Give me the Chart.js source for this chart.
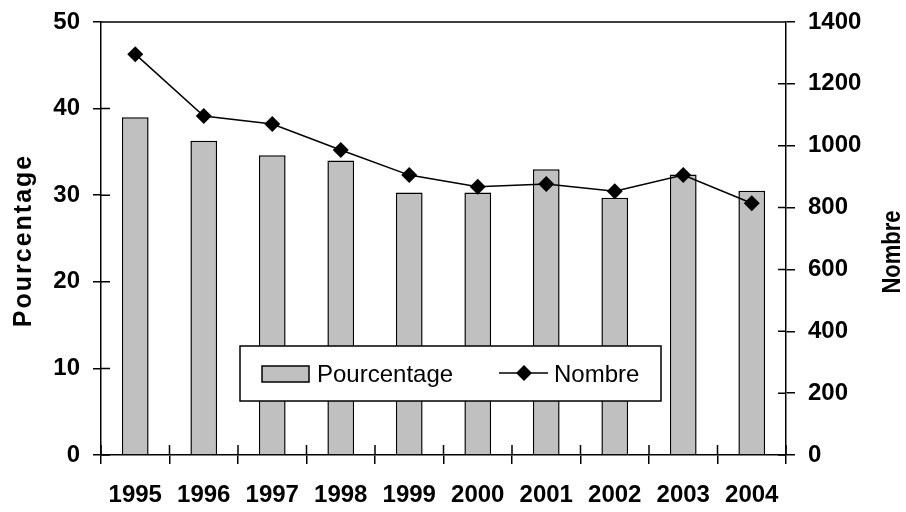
<!DOCTYPE html>
<html>
<head>
<meta charset="utf-8">
<script src="https://cdn.jsdelivr.net/npm/chart.js@4"></script>
<style>
  html, body { margin: 0; padding: 0; background: #fff; }
  #wrap { width: 906px; height: 512px; }
</style>
</head>
<body>
<div id="wrap"><canvas id="myChart" width="906" height="512"></canvas></div>
<script>
const years = ['1995', '1996', '1997', '1998', '1999', '2000', '2001', '2002', '2003', '2004'];
const pourcentage = [39.0, 36.3, 34.6, 34.0, 30.3, 30.3, 33.0, 29.7, 32.4, 30.5];
const nombre = [1296, 1096, 1070, 986, 905, 867, 876, 853, 905, 814];
const pctTitle = 'Pourcentage';
const nbTitle = 'Nombre';

const FONT = "'Liberation Sans', Arial, sans-serif";

// ticks that cross the axis line (Chart.js only draws the outer half)
const innerTicks = {
  id: 'innerTicks',
  afterDraw(chart) {
    const ctx = chart.ctx;
    const a = chart.chartArea;
    ctx.save();
    ctx.strokeStyle = '#000';
    ctx.lineWidth = 1.5;
    ctx.beginPath();
    // top border
    ctx.moveTo(a.left, a.top);
    ctx.lineTo(a.right, a.top);
    const y = chart.scales.y, y1 = chart.scales.y1, x = chart.scales.x;
    y.ticks.forEach((t, i) => {
      const py = y.getPixelForTick(i);
      ctx.moveTo(a.left, py); ctx.lineTo(a.left + 9, py);
    });
    y1.ticks.forEach((t, i) => {
      const py = y1.getPixelForTick(i);
      ctx.moveTo(a.right, py); ctx.lineTo(a.right - 8, py);
    });
    for (let i = 0; i <= years.length; i++) {
      const px = x.getPixelForValue(i - 0.5);
      ctx.moveTo(px, a.bottom); ctx.lineTo(px, a.bottom - 10);
    }
    ctx.stroke();

    // axis titles
    ctx.fillStyle = '#000';
    ctx.textAlign = 'center';
    ctx.textBaseline = 'middle';
    ctx.font = 'bold 25px ' + FONT;
    ctx.letterSpacing = '2px';
    ctx.save();
    ctx.translate(24, (a.top + a.bottom) / 2 + 2);
    ctx.rotate(-Math.PI / 2);
    ctx.fillText(pctTitle, 0, 0);
    ctx.restore();
    ctx.letterSpacing = '0px';
    ctx.save();
    ctx.translate(893, 252);
    ctx.rotate(-Math.PI / 2);
    ctx.scale(0.88, 1);
    ctx.fillText(nbTitle, 0, 0);
    ctx.restore();

    // legend box inside the plot
    const bar = chart.data.datasets[1], line = chart.data.datasets[0];
    const lx = 240, ly = 346, lw = 421, lh = 55;
    ctx.fillStyle = '#fff';
    ctx.fillRect(lx, ly, lw, lh);
    ctx.lineWidth = 1.5;
    ctx.strokeStyle = '#000';
    ctx.strokeRect(lx, ly, lw, lh);
    ctx.fillStyle = bar.backgroundColor;
    ctx.fillRect(262, 366, 47, 16);
    ctx.strokeStyle = bar.borderColor;
    ctx.strokeRect(262, 366, 47, 16);
    ctx.strokeStyle = line.borderColor;
    ctx.beginPath();
    ctx.moveTo(499, 373); ctx.lineTo(548, 373);
    ctx.stroke();
    ctx.fillStyle = '#000';
    ctx.beginPath();
    ctx.moveTo(524, 365); ctx.lineTo(532, 373); ctx.lineTo(524, 381); ctx.lineTo(516, 373);
    ctx.closePath();
    ctx.fill();
    ctx.font = '24px ' + FONT;
    ctx.textAlign = 'left';
    ctx.textBaseline = 'alphabetic';
    ctx.fillText(bar.label, 317, 382);
    ctx.fillText(line.label, 554, 382);
    ctx.restore();
  }
};

const noPad = s => { s.paddingTop = 0; s.paddingBottom = 0; };

const ctx = document.getElementById('myChart').getContext('2d');
new Chart(ctx, {
  data: {
    labels: years,
    datasets: [{
      type: 'line',
      label: 'Nombre',
      data: nombre,
      yAxisID: 'y1',
      borderColor: '#000',
      backgroundColor: '#000',
      borderWidth: 1.5,
      tension: 0,
      pointStyle: 'rectRot',
      pointRadius: 8,
      pointBackgroundColor: '#000',
      pointBorderWidth: 0,
      order: 1
    }, {
      type: 'bar',
      label: 'Pourcentage',
      data: pourcentage,
      yAxisID: 'y',
      backgroundColor: '#c0c0c0',
      borderColor: '#000',
      borderWidth: 1.5,
      categoryPercentage: 1,
      barPercentage: 0.39,
      order: 2
    }]
  },
  options: {
    responsive: false,
    animation: false,
    layout: { padding: { top: 22, right: 0, left: 0, bottom: 0 } },
    plugins: { legend: { display: false }, tooltip: { enabled: false } },
    scales: {
      x: {
        offset: true,
        grid: { offset: true, drawOnChartArea: false, tickLength: 9, color: '#000', lineWidth: 1.5 },
        border: { color: '#000', width: 1.5 },
        ticks: { color: '#000', font: { family: FONT, size: 24, weight: 'bold' }, padding: 17, maxRotation: 0 },
        afterFit: s => { s.height = 57; s.paddingLeft = 0; s.paddingRight = 0; }
      },
      y: {
        position: 'left',
        min: 0, max: 50,
        ticks: { stepSize: 10, color: '#000', font: { family: FONT, size: 24, weight: 'bold' }, padding: 13 },
        grid: { drawOnChartArea: false, tickLength: 8, color: '#000', lineWidth: 1.5 },
        border: { color: '#000', width: 1.5 },
        afterFit: s => { s.width = 101; noPad(s); }
      },
      y1: {
        position: 'right',
        min: 0, max: 1400,
        ticks: { stepSize: 200, color: '#000', font: { family: FONT, size: 24, weight: 'bold' }, padding: 13,
          callback: v => String(v) },
        grid: { drawOnChartArea: false, tickLength: 9, color: '#000', lineWidth: 1.5 },
        border: { color: '#000', width: 1.5 },
        afterFit: s => { s.width = 120; noPad(s); }
      }
    }
  },
  plugins: [innerTicks]
});
</script>
</body>
</html>
